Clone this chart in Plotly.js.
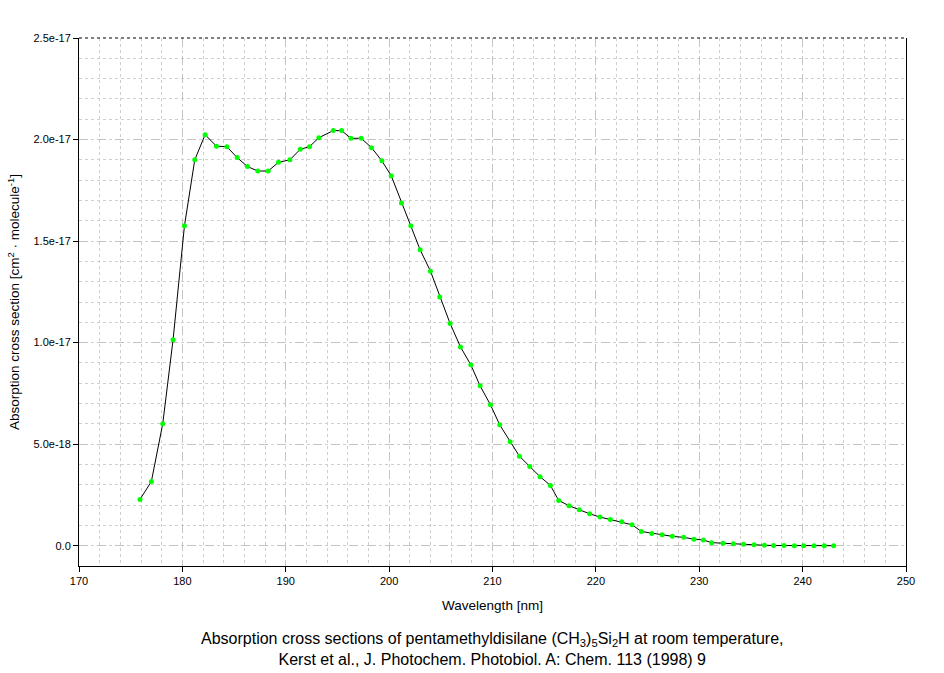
<!DOCTYPE html>
<html>
<head>
<meta charset="utf-8">
<script src="https://cdn.plot.ly/plotly-3.0.1.min.js"></script>
<style>html,body{margin:0;padding:0;background:#fff;}#chart{width:944px;height:673px;}</style>
</head>
<body>
<div id="chart"></div>
<script>
const wavelength = [175.9,177.0,178.1,179.1,180.2,181.2,182.2,183.3,184.3,185.3,186.3,187.3,188.3,189.3,190.4,191.4,192.3,193.2,194.6,195.4,196.3,197.3,198.3,199.3,200.2,201.2,202.1,203.0,204.0,204.9,205.9,206.9,207.9,208.8,209.8,210.7,211.7,212.6,213.6,214.6,215.6,216.4,217.4,218.4,219.4,220.4,221.4,222.5,223.5,224.4,225.4,226.4,227.4,228.5,229.5,230.4,231.2,232.3,233.3,234.3,235.3,236.3,237.2,238.2,239.2,240.1,241.1,242.1,243.0];
const crossSection = [2.28e-18,3.16e-18,6.00e-18,1.014e-17,1.575e-17,1.90e-17,2.024e-17,1.967e-17,1.965e-17,1.911e-17,1.867e-17,1.845e-17,1.845e-17,1.888e-17,1.90e-17,1.952e-17,1.965e-17,2.009e-17,2.044e-17,2.044e-17,2.006e-17,2.006e-17,1.96e-17,1.895e-17,1.822e-17,1.688e-17,1.576e-17,1.457e-17,1.352e-17,1.225e-17,1.094e-17,9.79e-18,8.91e-18,7.87e-18,6.94e-18,5.95e-18,5.12e-18,4.41e-18,3.90e-18,3.40e-18,2.97e-18,2.23e-18,1.97e-18,1.77e-18,1.57e-18,1.41e-18,1.29e-18,1.18e-18,1.03e-18,7.0e-19,6.05e-19,5.4e-19,4.6e-19,4.1e-19,3.2e-19,2.8e-19,1.5e-19,1.15e-19,9.8e-20,6.6e-20,5.0e-20,2.0e-20,1.0e-20,5e-21,2e-21,1e-21,1e-21,1e-21,1e-21];
const yTickVals = [0,5e-18,1e-17,1.5e-17,2e-17,2.5e-17];
const yTickText = ["0.0","5.0e-18","1.0e-17","1.5e-17","2.0e-17","2.5e-17"];
const xTickVals = [170,180,190,200,210,220,230,240,250];

const trace = {
  x: wavelength, y: crossSection, type: 'scatter', mode: 'lines+markers',
  line: {color: '#000000', width: 1},
  marker: {color: '#00ff00', size: 5, symbol: 'circle'},
  hoverinfo: 'x+y'
};
const font = {family: 'Liberation Sans, Arial, sans-serif', color: '#000'};
const layout = {
  width: 944, height: 673,
  margin: {l: 79, r: 38, t: 38, b: 107},
  paper_bgcolor: '#ffffff', plot_bgcolor: '#ffffff',
  showlegend: false,
  font: Object.assign({size: 11}, font),
  xaxis: {
    range: [170, 250], tickvals: xTickVals, ticktext: xTickVals.map(String),
    ticks: 'outside', ticklen: 5, tickcolor: '#000', tickfont: Object.assign({size: 11}, font),
    showline: true, linecolor: '#000', linewidth: 1, mirror: false,
    showgrid: true, gridcolor: '#c4c4c4', griddash: 'dash', gridwidth: 1,
    minor: {dtick: 2, showgrid: true, gridcolor: '#cfcfcf', griddash: 'dot', gridwidth: 1},
    zeroline: false,
    title: {text: 'Wavelength [nm]', font: Object.assign({size: 13.5}, font), standoff: 14}
  },
  yaxis: {
    range: [-1e-18, 2.5e-17], tickvals: yTickVals, ticktext: yTickText,
    ticks: 'outside', ticklen: 5, tickcolor: '#000', tickfont: Object.assign({size: 11}, font),
    showline: true, linecolor: '#000', linewidth: 1, mirror: true,
    showgrid: true, gridcolor: '#c4c4c4', griddash: 'dash', gridwidth: 1,
    minor: {dtick: 1e-18, tick0: 0, showgrid: true, gridcolor: '#cfcfcf', griddash: 'dot', gridwidth: 1},
    zeroline: false,
    title: {text: 'Absorption cross section [cm<sup>2</sup> · molecule<sup>-1</sup>]', font: Object.assign({size: 13.5}, font), standoff: 10}
  },
  shapes: [{type: 'line', xref: 'paper', yref: 'paper', x0: 0, x1: 1, y0: 1, y1: 1,
            line: {color: '#000', width: 1, dash: 'dot'}}],
  annotations: [{
    xref: 'paper', yref: 'paper', x: 0.5, y: -0.118, xanchor: 'center', yanchor: 'top',
    showarrow: false, align: 'center',
    text: 'Absorption cross sections of pentamethyldisilane (CH<sub>3</sub>)<sub>5</sub>Si<sub>2</sub>H at room temperature,<br>Kerst et al., J. Photochem. Photobiol. A: Chem. 113 (1998) 9',
    font: Object.assign({size: 16}, font)
  }]
};
Plotly.newPlot('chart', [trace], layout, {displayModeBar: false, staticPlot: true});
</script>
</body>
</html>
